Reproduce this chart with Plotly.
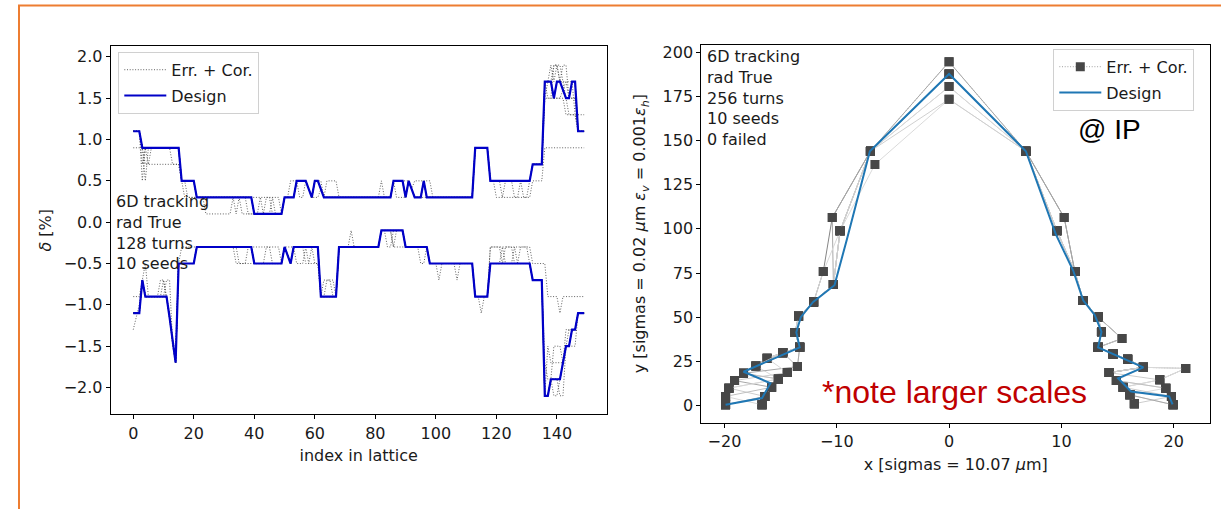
import plotly.graph_objects as go

W, H = 1221, 509

# ------------------------------------------------------------------
# LEFT PANEL : momentum acceptance along the lattice
# ------------------------------------------------------------------
N_ELEM = 150
INDEX = list(range(N_ELEM))

# design acceptance, run-length encoded as (value [%], number of elements)
DESIGN_UP_RUNS = [(1.1, 3), (0.9, 13), (0.5, 5), (0.3, 19), (0.1, 10), (0.3, 4),
                  (0.5, 4), (0.4, 1), (0.3, 1), (0.5, 2), (0.4, 1), (0.3, 23),
                  (0.5, 4), (0.3, 1), (0.5, 1), (0.4, 1), (0.3, 3), (0.5, 1),
                  (0.3, 16), (0.9, 5), (0.5, 14), (0.7, 4), (1.7, 3), (1.5, 1),
                  (1.7, 2), (1.6, 1), (1.5, 2), (1.7, 2), (1.1, 3)]
DESIGN_LO_RUNS = [(-1.1, 3), (-0.7, 1), (-0.9, 8), (-1.15, 1), (-1.45, 1), (-1.7, 1),
                  (-0.5, 6), (-0.3, 19), (-0.5, 10), (-0.3, 1), (-0.4, 1), (-0.5, 1),
                  (-0.3, 9), (-0.9, 6), (-0.3, 14), (-0.1, 8), (-0.3, 8), (-0.5, 15),
                  (-0.9, 5), (-0.5, 14), (-0.7, 4), (-2.1, 2), (-1.9, 4), (-1.7, 1),
                  (-1.5, 2), (-1.3, 2), (-1.1, 3)]

# Err.+Cor. seeds: where a seed differs from the design, (first idx, last idx, value)
SEED_UP_DEV = [
    [(0, 2, 0.9), (120, 127, 0.3), (128, 128, 0.5), (129, 131, 0.3), (132, 135, 0.5), (136, 149, 0.9)],
    [(4, 15, 0.7), (17, 20, 0.3), (136, 142, 1.5), (143, 149, 1.3)],
    [(4, 4, 0.5), (24, 32, 0.1), (33, 33, 0.3), (34, 34, 0.1), (35, 35, 0.3), (36, 39, 0.1),
     (82, 82, 0.5), (138, 138, 1.9), (139, 139, 1.7), (140, 140, 1.9), (141, 142, 1.7)],
    [(3, 3, 0.7), (40, 48, 0.3), (64, 67, 0.5), (93, 95, 0.5), (139, 141, 1.9), (142, 143, 1.7), (144, 146, 1.5)],
    [(3, 3, 0.5), (59, 61, 0.3), (87, 89, 0.3), (144, 146, 1.3)],
    [(42, 42, 0.3), (46, 46, 0.3), (97, 98, 0.5), (122, 122, 0.3), (126, 130, 0.3), (136, 136, 1.5)],
    [(34, 34, 0.3), (36, 36, 0.3), (55, 56, 0.3), (137, 138, 1.5), (139, 140, 1.9), (143, 144, 1.7)],
    [(18, 20, 0.3), (44, 45, 0.3), (62, 62, 0.5), (140, 141, 1.5), (145, 146, 1.5)],
    [(5, 5, 0.7), (52, 53, 0.5), (89, 90, 0.5), (142, 143, 1.9)],
    [(13, 15, 0.7), (38, 39, 0.1), (95, 96, 0.3), (146, 146, 1.3)],
]
SEED_LO_DEV = [
    [(0, 2, -0.9), (118, 131, -0.3), (132, 136, -0.5), (137, 140, -0.9), (141, 141, -1.1), (142, 149, -0.9)],
    [(0, 0, -1.3), (1, 1, -1.15), (2, 2, -1.0), (16, 20, -0.3), (34, 39, -0.5),
     (137, 137, -1.5), (138, 141, -1.7), (143, 146, -1.5)],
    [(4, 4, -0.5), (40, 48, -0.3), (72, 72, -0.1), (107, 107, -0.7)],
    [(10, 10, -0.7), (58, 61, -0.5), (86, 86, -0.3), (115, 115, -1.1), (122, 122, -0.3), (126, 126, -0.3)],
    [(12, 12, -1.1), (13, 13, -1.5), (63, 66, -0.7), (118, 121, -0.3), (139, 140, -2.1)],
    [(51, 52, -0.3), (86, 89, -0.3), (144, 146, -1.3)],
    [(35, 37, -0.5), (54, 56, -0.5), (64, 65, -0.7), (123, 125, -0.3), (136, 136, -1.7), (137, 138, -1.9)],
    [(14, 14, -1.5), (44, 45, -0.3), (101, 101, -0.7), (128, 130, -0.3), (141, 142, -2.1)],
    [(9, 10, -0.7), (57, 58, -0.5), (84, 85, -0.3), (139, 141, -1.5)],
    [(11, 12, -0.7), (60, 61, -0.5), (95, 96, -0.5), (143, 144, -1.3)],
]

# ------------------------------------------------------------------
# RIGHT PANEL : dynamic aperture at the IP
# ------------------------------------------------------------------
DESIGN_DA_X = [-19.9, -16.65, -15.9, -18.3, -13.3, -13.6, -13.2, -12.1, -10.2, -9.1, -7.05, 0.0,
               6.84, 9.5, 11.05, 11.94, 12.98, 13.57, 13.27, 17.3, 15.05, 16.2, 19.6, 19.9]
DESIGN_DA_Y = [0.4, 4.2, 12.6, 19.1, 32.9, 41.5, 50.0, 58.6, 68.1, 94.0, 144.0, 187.7,
               144.0, 97.0, 76.4, 59.5, 51.1, 41.7, 32.9, 21.6, 15.4, 7.9, 5.1, 0.6]

DA_POINT_NAMES = ["L0O", "L0I", "L1O", "L1I", "L2O", "L2I", "L3O", "L3I", "L4O", "L4I",
                  "L5O", "L5I", "L6", "L7", "L8", "L9", "L10", "L11", "L12a", "L12b",
                  "L13a", "L13b", "L14a", "L14b", "T0", "T1", "T2", "T3",
                  "R14", "R13a", "R13b", "R12", "R11", "R10", "R9a", "R9b", "R8", "R7", "R6",
                  "R5I", "R5O", "R4I", "R3I", "R3O", "R2I", "R2O", "R1I", "R1O", "R0I", "R0O"]
DA_POINT_X = [-19.9, -16.65, -19.9, -16.4, -19.6, -15.8, -19.1, -15.2, -18.3, -14.4,
              -17.2, -13.5, -16.2, -14.8, -13.3, -13.7, -13.4, -12.06, -10.3, -11.2,
              -9.7, -10.4, -7.0, -6.6, 0.0, 0.0, 0.0, 0.0,
              6.84, 9.6, 10.25, 11.2, 11.94, 13.27, 13.57, 15.4, 13.27, 14.6, 15.9,
              17.3, 21.07, 14.25, 14.9, 18.76, 15.5, 19.3, 16.1, 19.8, 16.5, 19.95]
DA_POINT_Y = [0.4, 0.4, 5.1, 5.1, 9.8, 10.3, 14.1, 15.0, 18.2, 18.6,
              22.4, 22.0, 26.7, 29.9, 32.9, 41.3, 50.5, 58.6, 68.5, 75.8,
              98.9, 106.4, 144.0, 136.5, 194.6, 187.7, 180.6, 173.4,
              144.0, 98.9, 106.4, 75.8, 59.5, 50.1, 41.7, 37.9, 32.9, 29.1, 26.1,
              21.6, 21.0, 18.6, 14.1, 14.5, 10.3, 9.8, 6.0, 5.1, 1.0, 0.4]

SEED_DA_PATHS = [
    "L0O L1O L2O L3O L4O L5O L6 L7 L8 L9 L10 L11 L12a L13a L14a T0 R14 R13a R12 R11 R10 R9a R8 R7 R6 R5I R5O R3O R2O R1O R0O",
    "L0I L1I L2I L3I L4I L5I L8 L9 L10 L11 L12a L13a L14a T1 R14 R13a R12 R11 R10 R9a R8 R6 R5I R4I R3I R2I R1I R0I",
    "L0O L1O L2O L3O L4O L5O L6 L7 L8 L9 L10 L11 L12b L13b L14a T1 R14 R13b R12 R11 R10 R9b R8 R7 R6 R5I R4I R3I R2I R1I R0I",
    "L0I L1I L2I L3I L4O L6 L7 L8 L9 L10 L11 L12a L13a L14a T2 R14 R13a R12 R11 R10 R9a R8 R7 R5I R5O R3O R2O R1O R0O",
    "L0O L1O L2O L3I L5O L7 L8 L9 L10 L11 L12a L13a L14b T3 R14 R13a R12 R11 R10 R9a R8 R7 R6 R5I R3I R2O R1I R0O",
    "L0I L1I L2O L3O L4I L5I L7 L8 L9 L10 L11 L12a L13a L14a T1 R14 R13a R12 R11 R10 R9a R8 R7 R6 R5I R4I R3O R2I R1O R0I",
    "L0O L1I L2I L3O L4O L5I L8 L9 L10 L11 L12a L13b L14a T0 R14 R13b R12 R11 R10 R9a R8 R7 R6 R5I R4I R3I R2I R1I R0O",
    "L0I L1O L2O L3I L4I L6 L8 L9 L10 L11 L12b L13a L14a T2 R14 R13a R12 R11 R10 R9a R8 R7 R6 R5I R5O R3O R2I R1I R0I",
    "L0O L1O L2I L3I L4O L5O L7 L8 L9 L10 L11 L12a L13a L14a T1 R14 R13a R12 R11 R10 R9b R8 R7 R6 R5I R4I R3I R2O R1O R0O",
    "L0I L1I L2I L3I L4I L5I L7 L8 L9 L10 L11 L12a L13a L14a T3 R14 R13a R12 R11 R10 R9a R8 R7 R6 R5I R4I R3I R2I R1I R0I",
]
SEED_DA_LINE_COLORS = ["#a0a0a0", "#d2d2d2", "#858585", "#d4d4d4", "#dadada",
                       "#cdcdcd", "#a8a8a8", "#d8d8d8", "#c0c0c0", "#d0d0d0"]

LEFT_TEXT = "6D tracking<br>rad True<br>128 turns<br>10 seeds"
RIGHT_TEXT = "6D tracking<br>rad True<br>256 turns<br>10 seeds<br>0 failed"

# ------------------------------------------------------------------
def expand(runs):
    out = []
    for v, n in runs:
        out.extend([v] * n)
    return out


def apply_dev(base, dev):
    out = list(base)
    for a, b, v in dev:
        for i in range(a, b + 1):
            out[i] = v
    return out


design_up = expand(DESIGN_UP_RUNS)
design_lo = expand(DESIGN_LO_RUNS)
pts = {n: (x, y) for n, x, y in zip(DA_POINT_NAMES, DA_POINT_X, DA_POINT_Y)}

FONT = "DejaVu Sans"
TXT = "#1a1a1a"
DOTS = "1px,1.7px"
fig = go.Figure()

# left: seeds
for s in range(len(SEED_UP_DEV)):
    for k, (base, dev) in enumerate(((design_up, SEED_UP_DEV[s]), (design_lo, SEED_LO_DEV[s]))):
        fig.add_trace(go.Scatter(
            x=INDEX, y=apply_dev(base, dev), mode="lines",
            line=dict(color="rgba(70,70,70,0.85)", width=1, dash=DOTS),
            name="Err. + Cor.", legend="legend", legendgroup="err",
            showlegend=(s == 0 and k == 0), xaxis="x", yaxis="y", hoverinfo="skip"))
# left: design
for k, vals in enumerate((design_up, design_lo)):
    fig.add_trace(go.Scatter(
        x=INDEX, y=vals, mode="lines", line=dict(color="#0000c8", width=2.2),
        name="Design", legend="legend", legendgroup="des", showlegend=(k == 0),
        xaxis="x", yaxis="y", hoverinfo="skip"))

# right: seeds
for s, path in enumerate(SEED_DA_PATHS):
    names = path.split()
    fig.add_trace(go.Scatter(
        x=[pts[n][0] for n in names], y=[pts[n][1] for n in names],
        mode="lines+markers",
        line=dict(color=SEED_DA_LINE_COLORS[s], width=1, dash=DOTS if s == 0 else "solid"),
        marker=dict(symbol="square", size=9, color="#474747"),
        name="Err. + Cor.", legend="legend2", legendgroup="err2",
        showlegend=(s == 0), xaxis="x2", yaxis="y2", hoverinfo="skip"))
fig.add_trace(go.Scatter(
    x=DESIGN_DA_X, y=DESIGN_DA_Y, mode="lines", line=dict(color="#1f77b4", width=2),
    name="Design", legend="legend2", legendgroup="des2", xaxis="x2", yaxis="y2", hoverinfo="skip"))

axis_common = dict(showline=True, mirror=True, linecolor="#000", linewidth=1,
                   ticks="outside", ticklen=4, tickwidth=1, tickcolor="#000",
                   showgrid=False, zeroline=False,
                   tickfont=dict(family=FONT, size=16, color=TXT))

fig.update_layout(
    width=W, height=H, margin=dict(l=0, r=0, t=0, b=0),
    paper_bgcolor="white", plot_bgcolor="white",
    font=dict(family=FONT, size=16, color=TXT),
    xaxis=dict(domain=[110.7 / W, 606.7 / W], range=[-7.45, 156.45], anchor="y",
               tickvals=[0, 20, 40, 60, 80, 100, 120, 140],
               title=dict(text="index in lattice", standoff=8,
                          font=dict(family=FONT, size=16, color=TXT)), **axis_common),
    yaxis=dict(domain=[1 - 414 / H, 1 - 44.3 / H], range=[-2.325, 2.13], anchor="x",
               tickvals=[-2.0, -1.5, -1.0, -0.5, 0.0, 0.5, 1.0, 1.5, 2.0], tickformat=".1f",
               title=dict(text="<i>δ</i> [%]", standoff=8,
                          font=dict(family=FONT, size=16, color=TXT)), **axis_common),
    xaxis2=dict(domain=[701.3 / W, 1210.3 / W], range=[-22.06, 23.26], anchor="y2",
                tickvals=[-20, -10, 0, 10, 20],
                title=dict(text="x [sigmas = 10.07 <i>μ</i>m]", standoff=8,
                           font=dict(family=FONT, size=16, color=TXT)), **axis_common),
    yaxis2=dict(domain=[1 - 422.3 / H, 1 - 42.7 / H], range=[-9.73, 204.4], anchor="x2",
                tickvals=[0, 25, 50, 75, 100, 125, 150, 175, 200],
                title=dict(text="y [sigmas = 0.02 <i>μ</i>m <i>ε<sub>v</sub></i> = 0.001<i>ε<sub>h</sub></i>]",
                           standoff=12, font=dict(family=FONT, size=16, color=TXT)), **axis_common),
    legend=dict(x=118.3 / W, y=1 - 50 / H, xanchor="left", yanchor="top",
                bgcolor="rgba(255,255,255,0.85)", bordercolor="#d0d0d0", borderwidth=1,
                font=dict(family=FONT, size=16, color=TXT), tracegroupgap=2,
                itemwidth=42, traceorder="grouped"),
    legend2=dict(x=1053.3 / W, y=1 - 47 / H, xanchor="left", yanchor="top",
                 bgcolor="rgba(255,255,255,0.85)", bordercolor="#d0d0d0", borderwidth=1,
                 font=dict(family=FONT, size=16, color=TXT), tracegroupgap=2,
                 itemwidth=42, traceorder="grouped"),
    showlegend=True,
)

fig.add_annotation(text=LEFT_TEXT, xref="paper", yref="paper", x=114 / W, y=1 - 189 / H,
                   xanchor="left", yanchor="top", align="left", showarrow=False,
                   font=dict(family=FONT, size=16, color=TXT))
fig.add_annotation(text=RIGHT_TEXT, xref="paper", yref="paper", x=705 / W, y=1 - 43 / H,
                   xanchor="left", yanchor="top", align="left", showarrow=False,
                   font=dict(family=FONT, size=16, color=TXT))
fig.add_annotation(text="*note larger scales", xref="paper", yref="paper", x=820 / W, y=1 - 392 / H,
                   xanchor="left", yanchor="middle", showarrow=False,
                   font=dict(family="Liberation Sans", size=32, color="#C00000"))
fig.add_annotation(text="@ IP", xref="paper", yref="paper", x=1076 / W, y=1 - 128 / H,
                   xanchor="left", yanchor="middle", showarrow=False,
                   font=dict(family="Liberation Sans", size=28, color="#000"))

# slide frame (orange)
fig.add_shape(type="line", xref="paper", yref="paper", x0=19 / W, x1=19 / W, y0=0, y1=1 - 3.5 / H,
              line=dict(color="#ED7D31", width=2))
fig.add_shape(type="line", xref="paper", yref="paper", x0=18 / W, x1=1, y0=1 - 3.5 / H, y1=1 - 3.5 / H,
              line=dict(color="#ED7D31", width=2))

fig.write_html("out.html")
